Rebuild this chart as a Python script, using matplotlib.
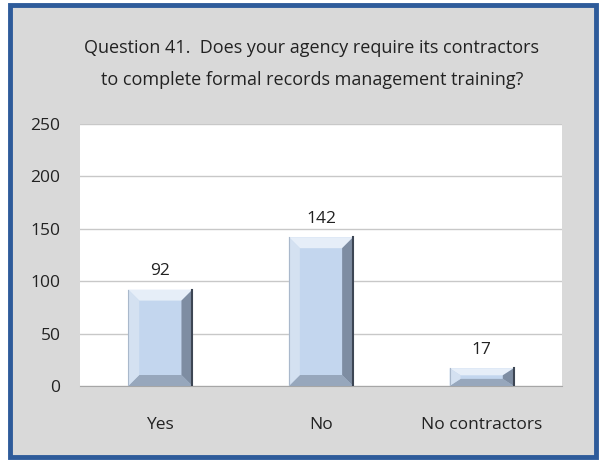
import matplotlib
matplotlib.use("Agg")
import matplotlib.pyplot as plt
from matplotlib.patches import Rectangle, Polygon

categories = ["Yes", "No", "No contractors"]
values = [92, 142, 17]
yticks = [0, 50, 100, 150, 200, 250]
title = "Question 41.  Does your agency require its contractors\nto complete formal records management training?"

plt.rcParams['font.family'] = ['Open Sans', 'DejaVu Sans']

W, H = 600, 461
fig = plt.figure(figsize=(W / 100, H / 100), dpi=100)
fig.patch.set_facecolor("white")
bg = Rectangle((10 / W, 4 / H), 586 / W, 452 / H, transform=fig.transFigure,
               facecolor="#D9D9D9", edgecolor="#2E5B9A", linewidth=3.5, zorder=-10)
fig.patches.append(bg)

ax = fig.add_axes([80 / W, 1 - 386 / H, 482 / W, 262 / H])
ax.set_zorder(1)
ax.set_facecolor("white")
ax.set_xlim(-0.5, 2.5)
ax.set_ylim(0, 250)
ax.set_yticks(yticks)
ax.set_yticklabels([str(t) for t in yticks], fontsize=12.5, color="#222222")
ax.set_xticks(range(len(categories)))
ax.set_xticklabels(categories, fontsize=12.5, color="#222222")
ax.tick_params(axis="x", length=0, pad=22)
ax.tick_params(axis="y", length=0, pad=14)
ax.yaxis.grid(True, color="#C8C8C8", linewidth=1)
ax.set_axisbelow(True)
for s in ["top", "right", "left"]:
    ax.spines[s].set_visible(False)
ax.spines["bottom"].set_color("#A6A6A6")

bw = 0.40
bars = ax.bar(range(len(categories)), values, width=bw, color="#C3D6EE", edgecolor="none", zorder=2)

# bevel effect, sized in pixels
px_x = 3 / 482.0
px_y = 250 / 262.0
for b, v in zip(bars, values):
    x0 = b.get_x(); x1 = x0 + b.get_width()
    y0 = 0; y1 = v
    bx = 11 * px_x
    by = min(11 * px_y, v * 0.4)
    bxs = min(bx, (x1 - x0) / 2)
    top = Polygon([(x0, y1), (x1, y1), (x1 - bxs, y1 - by), (x0 + bxs, y1 - by)],
                  facecolor="#E6EEF8", edgecolor="none", zorder=3)
    bottom = Polygon([(x0, y0), (x1, y0), (x1 - bxs, y0 + by), (x0 + bxs, y0 + by)],
                     facecolor="#97A7BC", edgecolor="none", zorder=3)
    left = Polygon([(x0, y0), (x0, y1), (x0 + bxs, y1 - by), (x0 + bxs, y0 + by)],
                   facecolor="#D4E1F1", edgecolor="none", zorder=3)
    right = Polygon([(x1, y0), (x1, y1), (x1 - bxs, y1 - by), (x1 - bxs, y0 + by)],
                    facecolor="#7E8DA2", edgecolor="none", zorder=3)
    for p in (top, bottom, left, right):
        ax.add_patch(p)
    ax.plot([x1, x1], [y0, y1], color="#3D4654", linewidth=1.5, zorder=4)
    ax.plot([x0, x0], [y0, y1], color="#A9B8CB", linewidth=0.8, zorder=4)
    ax.text(b.get_x() + b.get_width() / 2, v + 10, str(v), ha="center", va="bottom",
            fontsize=12.5, color="#222222", zorder=5)

fig.text(312 / W, 1 - 64 / H, title, ha="center", va="center", fontsize=13,
         color="#222222", linespacing=2.0)

fig.savefig("out.png", dpi=100)
